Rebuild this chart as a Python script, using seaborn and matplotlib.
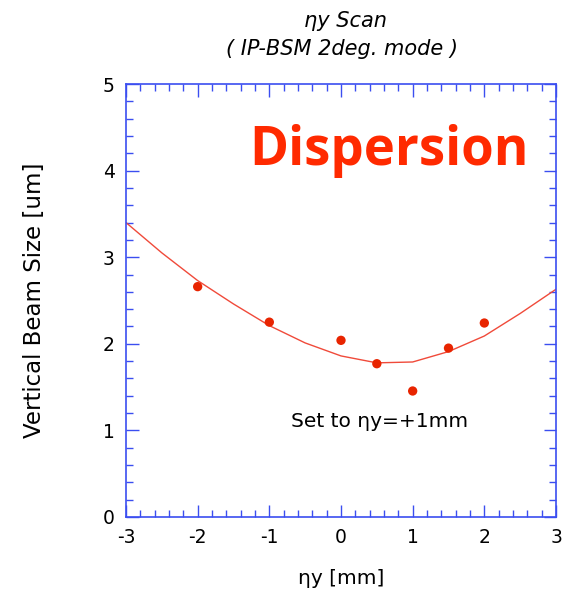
import matplotlib
matplotlib.use("Agg")
import matplotlib.pyplot as plt
import seaborn as sns
import pandas as pd
from matplotlib.ticker import MultipleLocator

# data
eta_y = [-2.0, -1.0, 0.0, 0.5, 1.0, 1.5, 2.0]
beam_size = [2.66, 2.25, 2.04, 1.77, 1.455, 1.95, 2.24]

fit_x = [-3.0, -2.5, -2.0, -1.5, -1.0, -0.5, 0.0, 0.5, 1.0, 1.5, 2.0, 2.5, 3.0]
fit_y = [3.40, 3.05, 2.73, 2.46, 2.21, 2.01, 1.86, 1.78, 1.79, 1.91, 2.09, 2.35, 2.63]

x_ticks = [-3, -2, -1, 0, 1, 2, 3]
y_ticks = [0, 1, 2, 3, 4, 5]

sns.set_style("white")
plt.rcParams["font.family"] = ["DejaVu Sans"]
plt.rcParams["axes.unicode_minus"] = False
plt.rcParams["text.color"] = "black"
plt.rcParams["axes.labelcolor"] = "black"

fig = plt.figure(figsize=(5.62, 5.95), dpi=100)
ax = fig.add_axes([126/562, 78/595, 430/562, 433/595])

pts = pd.DataFrame({"x": eta_y, "y": beam_size})
fit = pd.DataFrame({"x": fit_x, "y": fit_y})

sns.lineplot(data=fit, x="x", y="y", ax=ax, color="#f04a3a", linewidth=1.0, sort=True)
sns.scatterplot(data=pts, x="x", y="y", ax=ax, color="#e82400", s=45, edgecolor="none", zorder=3)

ax.set_xlim(-3, 3)
ax.set_ylim(0, 5)
ax.set_xticks(x_ticks)
ax.set_yticks(y_ticks)
ax.xaxis.set_minor_locator(MultipleLocator(0.2))
ax.yaxis.set_minor_locator(MultipleLocator(0.2))

blue = "#3b4ef0"
for sp in ax.spines.values():
    sp.set_color(blue)
    sp.set_linewidth(1.2)
ax.tick_params(which="both", direction="in", top=True, right=True, bottom=True, left=True,
               color=blue, labelsize=13.5, labelcolor="black", width=1.0)
ax.tick_params(which="major", length=9, pad=8)
ax.tick_params(which="minor", length=5)

ax.set_xlabel("ηy [mm]", fontsize=14.5, labelpad=16)
ax.set_ylabel("Vertical Beam Size [um]", fontsize=16.5, labelpad=41)

fig.text(346/562, 1 - 21/595, "ηy Scan", ha="center", va="center",
         fontsize=15, style="italic")
fig.text(342/562, 1 - 49/595, "( IP-BSM 2deg. mode )", ha="center", va="center",
         fontsize=15, style="italic")

ax.text(0.67, 4.065, "Dispersion", ha="center", va="baseline",
        fontsize=38, fontweight="bold", color="#ff2a00", family=["Open Sans", "DejaVu Sans"])
ax.text(0.545, 1.04, "Set to ηy=+1mm", ha="center", va="baseline", fontsize=14.5)

fig.savefig("out.png", dpi=100)
